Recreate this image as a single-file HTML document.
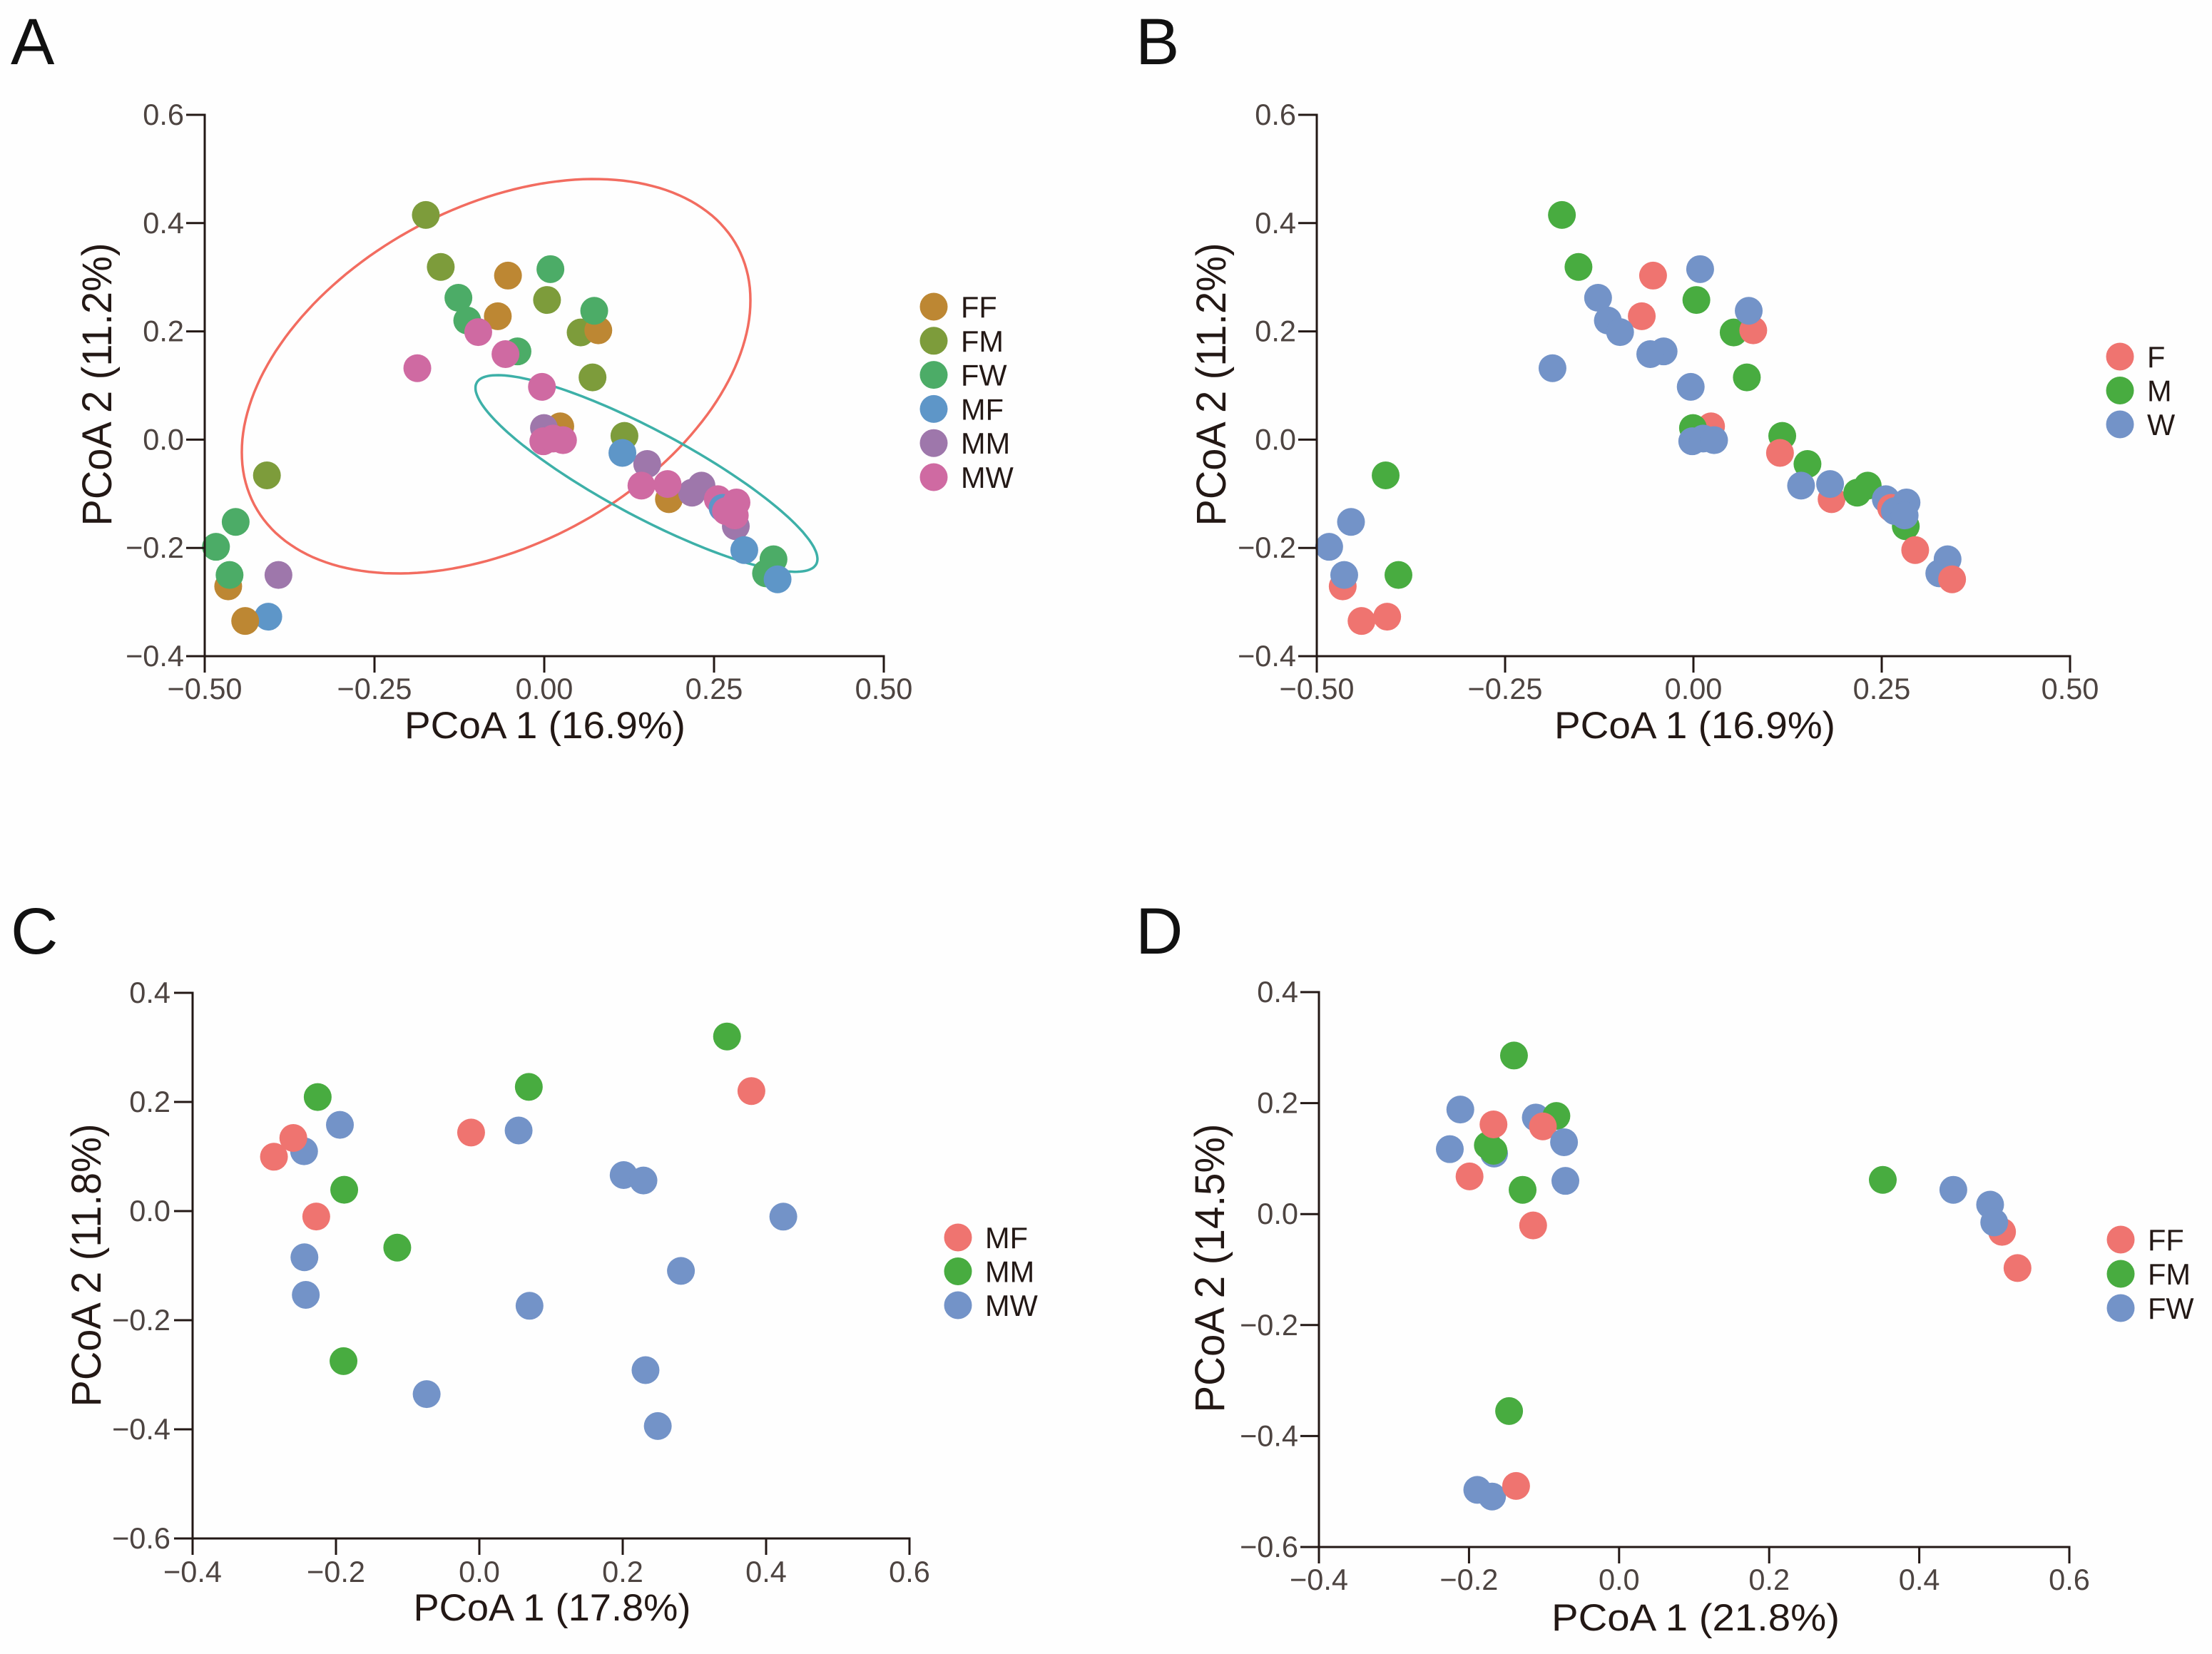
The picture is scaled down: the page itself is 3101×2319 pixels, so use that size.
<!DOCTYPE html>
<html lang="en">
<head>
<meta charset="utf-8">
<title>PCoA scatter panels</title>
<style>
html,body{margin:0;padding:0;background:#fefefe;}
svg{display:block;font-family:"Liberation Sans",Arial,sans-serif;}
</style>
</head>
<body>
<svg id="figure" xmlns="http://www.w3.org/2000/svg" width="3101" height="2319" viewBox="0 0 3101 2319"></svg>
<script>
// Samples shared by panels A and B, in draw order
const abX = [-0.408,
  -0.176,-0.154,0.0025,0.052,0.0695,0.1165,-0.41,
  -0.055,-0.07,0.078,0.022,0.182,-0.467,-0.442,
  0.0075,-0.128,-0.115,0.072,-0.041,-0.456,-0.485,-0.465,0.336,0.325,
  -0.393,-0.002,0.15,0.23,0.216,0.2805,
  0.254,
  0.1135,0.261,0.293,0.342,
  -0.1885,-0.0988,-0.0587,-0.005,-0.003,0.0115,0.026,0.1415,0.18,0.2815,0.266,0.279];
const abY = [-0.327,
  0.415,0.319,0.258,0.198,0.115,0.007,-0.066,
  0.303,0.228,0.202,0.0245,-0.11,-0.271,-0.335,
  0.315,0.262,0.22,0.238,0.163,-0.152,-0.198,-0.25,-0.221,-0.247,
  -0.25,0.0215,-0.045,-0.085,-0.098,-0.16,
  -0.11,
  -0.0245,-0.126,-0.204,-0.258,
  0.132,0.1987,0.158,0.0975,-0.003,0.002,-0.001,-0.085,-0.082,-0.116,-0.132,-0.14];
const abGroup = ["MF",
  "FM","FM","FM","FM","FM","FM","FM",
  "FF","FF","FF","FF","FF","FF","FF",
  "FW","FW","FW","FW","FW","FW","FW","FW","FW","FW",
  "MM","MM","MM","MM","MM","MM",
  "MW",
  "MF","MF","MF","MF",
  "MW","MW","MW","MW","MW","MW","MW","MW","MW","MW","MW","MW"];

// Panel C samples
const cX = [-0.196,-0.246,-0.2455,-0.2436,-0.075,0.0533,0.1998,0.2274,0.4225,0.2797,0.0685,0.2303,0.2474,
  -0.227,-0.19,-0.116,-0.191,0.0675,0.344,
  -0.288,-0.261,-0.229,-0.013,0.378];
const cY = [0.158,0.1096,-0.0847,-0.1536,-0.3355,0.1477,0.066,0.056,-0.0102,-0.1096,-0.1736,-0.2915,-0.394,
  0.209,0.039,-0.067,-0.275,0.2276,0.32,
  0.0996,0.134,-0.01,0.144,0.22];
const cGroup = ["MW","MW","MW","MW","MW","MW","MW","MW","MW","MW","MW","MW","MW",
  "MM","MM","MM","MM","MM","MM",
  "MF","MF","MF","MF","MF"];

// Panel D samples
const dX = [-0.1124,-0.168,-0.1904,-0.1707,
  -0.1415,-0.085,-0.1763,-0.1688,-0.13,0.35,-0.148,
  -0.1688,-0.103,-0.2007,-0.116,0.5089,0.5295,-0.1387,
  -0.213,-0.227,-0.0748,-0.073,0.444,0.493,0.4985];
const dY = [0.174,0.109,-0.497,-0.509,
  0.2857,0.1768,0.124,0.114,0.0437,0.0616,-0.355,
  0.1616,0.158,0.0679,-0.0205,-0.032,-0.0973,-0.49,
  0.1884,0.117,0.1295,0.0598,0.0437,0.017,-0.015];
const dGroup = ["FW","FW","FW","FW",
  "FM","FM","FM","FM","FM","FM","FM",
  "FF","FF","FF","FF","FF","FF","FF",
  "FW","FW","FW","FW","FW","FW","FW"];

// Tick values
const ticksAB_X = [-0.5,-0.25,0,0.25,0.5];
const ticksAB_Y = [-0.4,-0.2,0,0.2,0.4,0.6];
const ticksCD_X = [-0.4,-0.2,0,0.2,0.4,0.6];
const ticksCD_Y = [-0.6,-0.4,-0.2,0,0.2,0.4];

// Legend categories
const legendA = ["FF","FM","FW","MF","MM","MW"];
const legendB = ["F","M","W"];
const legendC = ["MF","MM","MW"];
const legendD = ["FF","FM","FW"];

// Confidence ellipses for panel A: centre x, centre y, sd x, sd y, correlation
const ellipseFemale = [-0.0709,0.1171,0.3745,0.3643,0.385];
const ellipseMale = [0.1505,-0.0625,0.2518,0.1816,-0.87];

const NS = "http://www.w3.org/2000/svg";
const fig = document.getElementById("figure");
const INK = "#231815";
const TICK_INK = "#4d4441";
const colorsA = {FF:"#BD8733",FM:"#7D9C3B",FW:"#4CAC67",MF:"#5E96C8",MM:"#9E77AB",MW:"#CF6AA2"};
const colors3 = ["#EF7470","#48AC40","#7393C8"];

function mk(tag, attrs, parent){
  const el = document.createElementNS(NS, tag);
  for (const k in attrs) el.setAttribute(k, attrs[k]);
  parent.appendChild(el);
  return el;
}
function fmtTick(v, digits){
  return v.toFixed(digits).replace("-", "\u2212");
}
function ellipsePath(e, sx, sy){
  const d = Math.acos(e[4]);
  let p = "";
  for (let i = 0; i <= 180; i++){
    const t = i / 180 * 2 * Math.PI;
    const px = sx(e[0] + e[2] * Math.cos(t));
    const py = sy(e[1] + e[3] * Math.cos(t + d));
    p += (i ? "L" : "M") + px.toFixed(1) + " " + py.toFixed(1);
  }
  return p + "Z";
}

function drawPanel(c){
  const g = mk("g", {}, fig);
  
  

  const sx = v => c.left + (v - c.xDom[0]) / (c.xDom[1] - c.xDom[0]) * (c.right - c.left);
  const sy = v => c.bottom - (v - c.yDom[0]) / (c.yDom[1] - c.yDom[0]) * (c.bottom - c.top);

  const letter = mk("text", {x:c.letterX, y:c.letterY, "font-size":92, fill:"#111"}, g);
  
  
  letter.textContent = c.letter;

  (c.ellipses || []).forEach(function(e){
    const path = mk("path", {d:ellipsePath(e.values, sx, sy), fill:"none", stroke:e.color, "stroke-width":3.5}, g);
    
    
  });

  c.x.forEach(function(v, i){
    const dot = mk("circle", {cx:sx(v) + 1.5, cy:sy(c.y[i]), r:19.5, fill:c.color(c.group[i])}, g);
    
    
  });

  const yAxis = mk("line", {x1:c.left, x2:c.left, y1:c.top - 1.5, y2:c.bottom + 1.5, stroke:INK, "stroke-width":3}, g);
  
  
  const xAxis = mk("line", {x1:c.left - 1.5, x2:c.right + 1.5, y1:c.bottom, y2:c.bottom, stroke:INK, "stroke-width":3}, g);
  
  

  c.yTicks.forEach(function(v){
    const t = mk("line", {x1:c.left - 26, x2:c.left, y1:sy(v), y2:sy(v), stroke:INK, "stroke-width":3}, g);
    
    
    const l = mk("text", {x:c.yLabelEnd, y:sy(v) + 14, "font-size":41.5, "text-anchor":"end", fill:TICK_INK}, g);
    
    
    l.textContent = fmtTick(v, 1);
  });
  c.xTicks.forEach(function(v){
    const t = mk("line", {x1:sx(v), x2:sx(v), y1:c.bottom, y2:c.bottom + 23, stroke:INK, "stroke-width":3}, g);
    
    
    const l = mk("text", {x:sx(v), y:c.xTickBase, "font-size":41.5, "text-anchor":"middle", fill:TICK_INK}, g);
    
    
    l.textContent = fmtTick(v, c.xDigits);
  });

  const xt = mk("text", {x:c.xTitle[0], y:c.xTitle[1], "font-size":53, "text-anchor":"middle", fill:INK,
    textLength:c.xTitle[2], lengthAdjust:"spacingAndGlyphs"}, g);
  
  
  xt.textContent = c.xLabel;

  const yt = mk("text", {x:0, y:0, "font-size":58, "text-anchor":"middle", fill:INK,
    textLength:c.yTitle[2], lengthAdjust:"spacingAndGlyphs",
    transform:"translate(" + c.yTitle[0] + " " + c.yTitle[1] + ") rotate(-90)"}, g);
  
  
  yt.textContent = c.yLabel;

  c.legend.forEach(function(name, i){
    const cy = c.legendY[0] + i * c.legendY[1];
    const dot = mk("circle", {cx:c.legendX, cy:cy, r:19.5, fill:c.color(name)}, g);
    
    
    const tx = mk("text", {x:c.legendX + 38, y:cy + 15, "font-size":41.5, fill:INK}, g);
    
    
    tx.textContent = name;
  });
}

const threeColor = list => (name => colors3[list.indexOf(name)]);

drawPanel({letter:"A", letterX:15, letterY:90, left:287, right:1239, top:161, bottom:920,
  xDom:[-0.5,0.5], yDom:[-0.4,0.6], xTicks:ticksAB_X, yTicks:ticksAB_Y, xDigits:2,
  yLabelEnd:258, xTickBase:980, x:abX, y:abY, group:abGroup,
  color:name => colorsA[name],
  xLabel:"PCoA 1 (16.9%)", xTitle:[764,1035,394], yLabel:"PCoA 2 (11.2%)", yTitle:[156,539,397],
  legend:legendA, legendX:1309, legendY:[430,47.8],
  ellipses:[{name:"ellipse-female", values:ellipseFemale, color:"#F26C60"},
            {name:"ellipse-male", values:ellipseMale, color:"#3DB0A8"}]});

drawPanel({letter:"B", letterX:1592, letterY:90, left:1846, right:2902, top:161, bottom:920,
  xDom:[-0.5,0.5], yDom:[-0.4,0.6], xTicks:ticksAB_X, yTicks:ticksAB_Y, xDigits:2,
  yLabelEnd:1817, xTickBase:980, x:abX, y:abY, group:abGroup.map(g => g.slice(-1)),
  color:threeColor(legendB),
  xLabel:"PCoA 1 (16.9%)", xTitle:[2376,1035,394], yLabel:"PCoA 2 (11.2%)", yTitle:[1718,539,397],
  legend:legendB, legendX:2972, legendY:[500,47.5]});

drawPanel({letter:"C", letterX:15, letterY:1337, left:270, right:1275, top:1392, bottom:2157,
  xDom:[-0.4,0.6], yDom:[-0.6,0.4], xTicks:ticksCD_X, yTicks:ticksCD_Y, xDigits:1,
  yLabelEnd:239, xTickBase:2218, x:cX, y:cY, group:cGroup,
  color:threeColor(legendC),
  xLabel:"PCoA 1 (17.8%)", xTitle:[774,2272,389], yLabel:"PCoA 2 (11.8%)", yTitle:[141,1774,397],
  legend:legendC, legendX:1343, legendY:[1735,47.5]});

drawPanel({letter:"D", letterX:1592, letterY:1337, left:1849, right:2901, top:1391, bottom:2169,
  xDom:[-0.4,0.6], yDom:[-0.6,0.4], xTicks:ticksCD_X, yTicks:ticksCD_Y, xDigits:1,
  yLabelEnd:1820, xTickBase:2229, x:dX, y:dY, group:dGroup,
  color:threeColor(legendD),
  xLabel:"PCoA 1 (21.8%)", xTitle:[2377,2286,404], yLabel:"PCoA 2 (14.5%)", yTitle:[1716,1778,405],
  legend:legendD, legendX:2973, legendY:[1738,48]});
</script>
</body>
</html>
